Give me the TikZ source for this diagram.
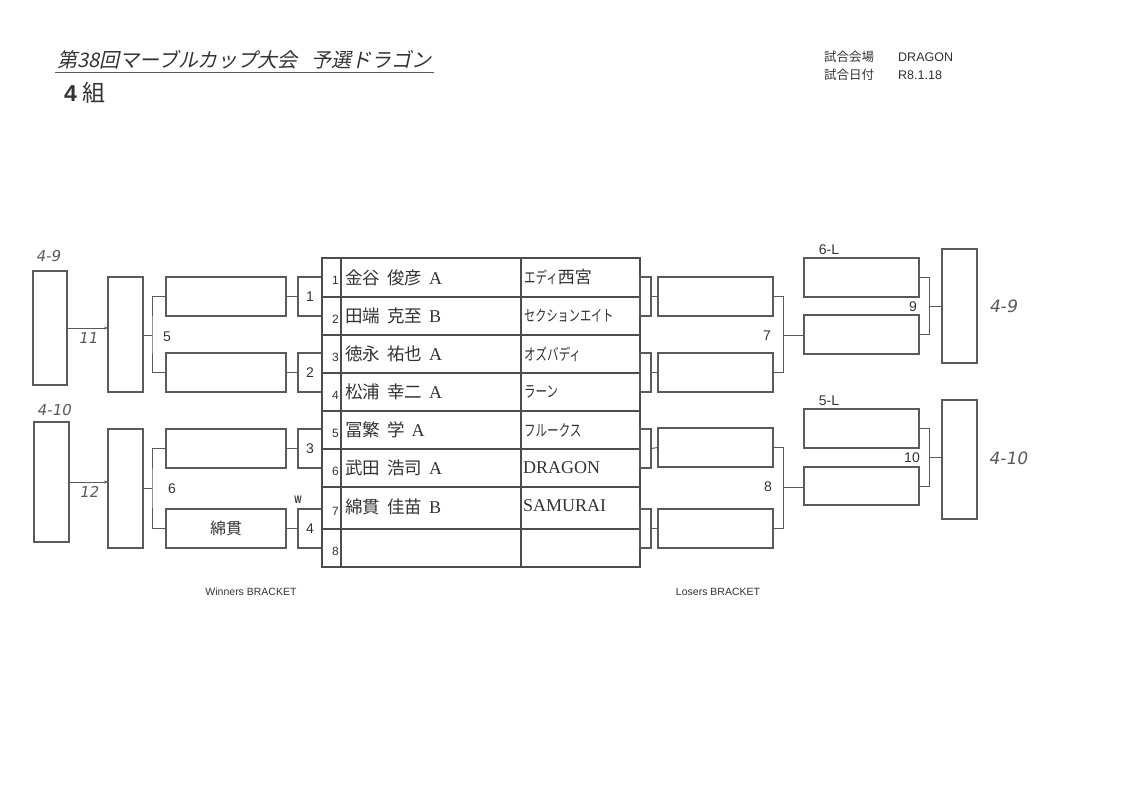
\documentclass[tikz,border=0pt]{standalone}
\usepackage{fontspec}
\usetikzlibrary{arrows.meta}
\setmainfont{Liberation Serif}
\newfontfamily\cjk{Noto Sans CJK JP}
\newfontfamily\cjksl[FakeSlant=0.22]{Noto Sans CJK JP}
\newfontfamily\cjkn[FakeStretch=0.72]{Noto Sans CJK JP}
\newfontfamily\sans{Liberation Sans}
\newfontfamily\hand[FakeSlant=0.18]{DejaVu Sans}
\definecolor{ln}{HTML}{5A5A5A}
\definecolor{tx}{HTML}{333333}
\newcommand{\nmx}[3]{{\cjk\fontsize{17.5}{17.5}\selectfont #1\hspace{7pt}#2}\hspace{7pt}{\fontsize{18}{18}\selectfont #3}}
\begin{document}
\begin{tikzpicture}[x=1pt,y=-1pt,
  box/.style={draw=ln,line width=1.1pt,rectangle,inner sep=0pt,outer sep=0pt,anchor=north west},
  wire/.style={draw=ln,line width=1pt},
  tgrid/.style={draw=ln!85!black,line width=1.2pt},
  lbl/.style={font=\sans\fontsize{14}{14}\selectfont,text=tx,inner sep=0pt},
  smalltx/.style={font=\sans\fontsize{12.5}{12.5}\selectfont,text=tx,inner sep=0pt},
  rnum/.style={font=\sans\fontsize{12}{12}\selectfont,text=tx,inner sep=0pt,anchor=east},
  pname/.style={text=tx,inner sep=0pt,anchor=west},
  tname/.style={text=tx,inner sep=0pt,anchor=west},
  handw/.style={font=\hand\fontsize{15}{15}\selectfont,text=ln,inner sep=0pt},
  arr/.style={wire,-{Stealth[length=4pt,width=3pt]}}
]
\useasboundingbox (0,0) rectangle (1123,794);
\fill[white] (0,0) rectangle (1123,794);

% ---------- header ----------
\node[inner sep=0pt,anchor=west,text=tx,font=\cjksl\fontsize{20}{20}\selectfont] (title) at (57,60) {第38回マーブルカップ大会\hspace{14pt}予選ドラゴン};
\draw[wire,line width=0.8pt] ([xshift=-2pt,yshift=-3pt]title.south west) -- ([xshift=2pt,yshift=-3pt]title.south east);
\node[inner sep=0pt,anchor=west,text=tx,font=\cjk\fontsize{23}{23}\selectfont] (group) at (64,93) {\textbf{\sans 4}\hspace{6pt}組};
\node[smalltx,anchor=west,font=\cjk\fontsize{12.5}{12.5}\selectfont] (venuek) at (824,57) {試合会場};
\node[smalltx,anchor=west] (venuev) at (898,57) {DRAGON};
\node[smalltx,anchor=west,font=\cjk\fontsize{12.5}{12.5}\selectfont] (datek) at (824,75) {試合日付};
\node[smalltx,anchor=west] (datev) at (898,75) {R8.1.18};

% ---------- winners bracket ----------
\node[box,minimum width=34,minimum height=114] (F9) at (33,271) {};
\node[box,minimum width=35,minimum height=115] (T11) at (108,277) {};
\node[box,minimum width=120,minimum height=39] (WA) at (166,277) {};
\node[box,minimum width=120,minimum height=39] (WB) at (166,353) {};
\node[box,minimum width=24,minimum height=39] (M1) at (298,277) {};
\node[box,minimum width=24,minimum height=39] (M2) at (298,353) {};
\node[box,minimum width=24,minimum height=39] (M3) at (298,429) {};
\node[box,minimum width=24,minimum height=39] (M4) at (298,509) {};
\node[box,minimum width=120,minimum height=39] (WC) at (166,429) {};
\node[box,minimum width=120,minimum height=39,font=\cjk\fontsize{16}{16}\selectfont,text=tx] (WD) at (166,509) {綿貫};
\node[box,minimum width=35,minimum height=119] (T12) at (108,429) {};
\node[box,minimum width=35,minimum height=120] (F10) at (34,422) {};

\node[lbl] (n1) at (M1.center) {1};
\node[lbl] (n2) at (M2.center) {2};
\node[lbl] (n3) at (M3.center) {3};
\node[lbl] (n4) at (M4.center) {4};
\node[font=\sans\bfseries\fontsize{11}{11}\selectfont,text=tx,inner sep=0pt,xscale=0.7] (wmark) at (298,500) {W};

\draw[wire] (WA.east) -- (M1.west);
\draw[wire] (WB.east) -- (M2.west);
\draw[wire] (WC.east) -- (M3.west);
\draw[wire] (WD.east) -- (M4.west);

\coordinate (j5) at (152,335);
\coordinate (j6) at (152,488);
\draw[wire] (WA.west) -| (j5) |- (WB.west);
\draw[wire] (j5) -- (j5 -| T11.east);
\draw[wire] (WC.west) -| (j6) |- (WD.west);
\draw[wire] (j6) -- (j6 -| T12.east);
\node[lbl,anchor=west] (l5) at (163,337) {5};
\node[lbl,anchor=west] (l6) at (168,489) {6};

\draw[arr] (F9.east) -- (F9.east -| T11.west);
\draw[arr] (F10.east) -- (F10.east -| T12.west);
\node[handw] (h49a) at (48,256) {4-9};
\node[handw] (h11) at (88,338) {11};
\node[handw] (h410a) at (54,410) {4-10};
\node[handw] (h12) at (89,492) {12};

\node[font=\sans\fontsize{10.5}{10.5}\selectfont,text=tx,inner sep=0pt] (wbr) at (251,592) {Winners BRACKET};
\node[font=\sans\fontsize{10.5}{10.5}\selectfont,text=tx,inner sep=0pt] (lbr) at (718,592) {Losers BRACKET};

% ---------- table ----------
\node[box,draw=ln!85!black,line width=1.2pt,minimum width=318,minimum height=309] (TB) at (322,258) {};
\foreach \yy in {297,335,373,411,449,487,529} \draw[tgrid] (322,\yy) -- (640,\yy);
\draw[tgrid] (341,258) -- (341,567);
\draw[tgrid] (521,258) -- (521,567);

\foreach \yy/\k in {280.5/1,319/2,357/3,395/4,433/5,471/6,511/7,551/8}
  \node[rnum] (rn\k) at (339,\yy) {\k};

\node[pname] (p1) at (345,278) {\nmx{金谷}{俊彦}{A}};
\node[pname] (p2) at (345,316) {\nmx{田端}{克至}{B}};
\node[pname] (p3) at (345,354) {\nmx{徳永}{祐也}{A}};
\node[pname] (p4) at (345,392) {\nmx{松浦}{幸二}{A}};
\node[pname] (p5) at (345,430) {\nmx{冨繁}{学}{A}};
\node[pname] (p6) at (345,468) {\nmx{武田}{浩司}{A}};
\node[pname] (p7) at (345,507) {\nmx{綿貫}{佳苗}{B}};

\node[tname] (t1) at (524,277) {{\cjkn\fontsize{16}{16}\selectfont エディ}{\cjk\fontsize{17}{17}\selectfont 西宮}};
\node[tname] (t2) at (524,316) {\cjkn\fontsize{15.5}{15.5}\selectfont セクションエイト};
\node[tname] (t3) at (524,354) {\cjkn\fontsize{16}{16}\selectfont オズバディ};
\node[tname] (t4) at (524,392) {\cjkn\fontsize{16}{16}\selectfont ラーン};
\node[tname] (t5) at (524,430) {\cjkn\fontsize{16}{16}\selectfont フルークス};
\node[tname,font=\fontsize{18}{18}\selectfont] (t6) at (523,468) {DRAGON};
\node[tname,font=\fontsize{18}{18}\selectfont] (t7) at (523,506) {SAMURAI};

% ---------- losers bracket ----------
\node[box,minimum width=11,minimum height=39] (K1) at (640,277) {};
\node[box,minimum width=11,minimum height=39] (K2) at (640,353) {};
\node[box,minimum width=11,minimum height=39] (K3) at (640,429) {};
\node[box,minimum width=11,minimum height=39] (K4) at (640,509) {};
\node[box,minimum width=115,minimum height=39] (LA) at (658,277) {};
\node[box,minimum width=115,minimum height=39] (LB) at (658,353) {};
\node[box,minimum width=115,minimum height=39] (LC) at (658,428) {};
\node[box,minimum width=115,minimum height=39] (LD) at (658,509) {};
\draw[wire] (K1.east) -- (LA.west);
\draw[wire] (K2.east) -- (LB.west);
\draw[wire] (K3.east) -- (LC.west);
\draw[wire] (K4.east) -- (LD.west);

\node[box,minimum width=115,minimum height=39] (LE) at (804,258) {};
\node[box,minimum width=115,minimum height=39] (LF) at (804,315) {};
\node[box,minimum width=115,minimum height=39] (LG) at (804,409) {};
\node[box,minimum width=115,minimum height=38] (LH) at (804,467) {};
\node[box,minimum width=35,minimum height=114] (P9) at (942,249) {};
\node[box,minimum width=35,minimum height=119] (P10) at (942,400) {};

\coordinate (j7) at (783,335);
\coordinate (j8) at (783,487);
\coordinate (j9) at (929,306);
\coordinate (j10) at (929,457);
\draw[wire] (LA.east) -| (j7) |- (LB.east);
\draw[wire] (j7) -- (j7 -| LF.west);
\draw[wire] (LC.east) -| (j8) |- (LD.east);
\draw[wire] (j8) -- (j8 -| LH.west);
\draw[wire] (LE.east) -| (j9) |- (LF.east);
\draw[wire] (j9) -- (j9 -| P9.west);
\draw[wire] (LG.east) -| (j10) |- (LH.east);
\draw[wire] (j10) -- (j10 -| P10.west);

\node[lbl] (l7) at (767,336) {7};
\node[lbl] (l8) at (768,487) {8};
\node[lbl] (l9) at (913,307) {9};
\node[lbl] (l10) at (912,458) {10};
\node[lbl] (l6L) at (829,250) {6-L};
\node[lbl] (l5L) at (829,401) {5-L};
\node[handw,font=\hand\fontsize{17}{17}\selectfont] (h49b) at (1003,306) {4-9};
\node[handw,font=\hand\fontsize{17}{17}\selectfont] (h410b) at (1008,458) {4-10};
\end{tikzpicture}
\end{document}
